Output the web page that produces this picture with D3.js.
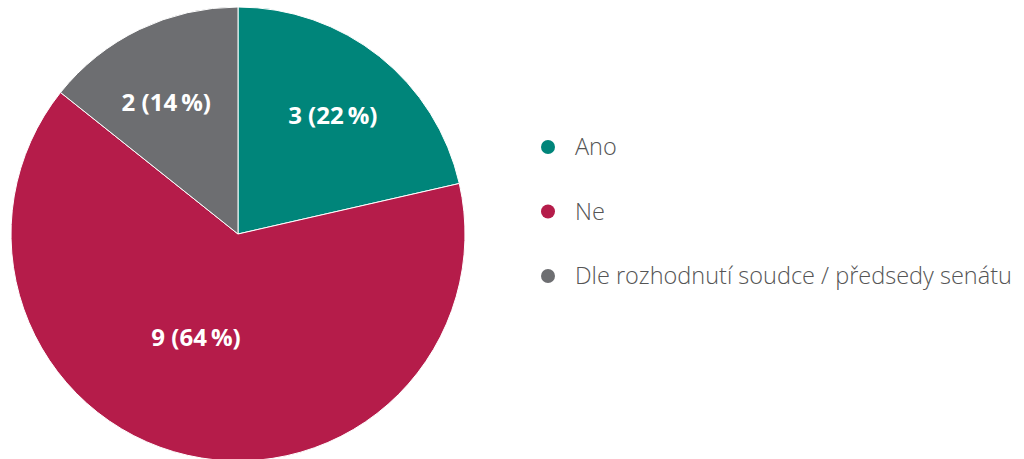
<!DOCTYPE html>
<html><head><meta charset="utf-8">
<script src="https://cdn.jsdelivr.net/npm/d3@7"></script>
<style>
html,body{margin:0;padding:0;background:#fff;}
svg{display:block;}
</style></head>
<body>
<svg id="chart" width="1024" height="459"></svg>
<script>
const categories = ["Ano", "Ne", "Dle rozhodnutí soudce / předsedy senátu"];
const values = [3, 9, 2];
const labels = ["3 (22\u2009%)", "9 (64\u2009%)", "2 (14\u2009%)"];
const colors = ["#00857a", "#b51c4a", "#6d6e71"];

const svg = d3.select("#chart");
const cx = 238, cy = 234, R = 227;
const g = svg.append("g").attr("transform", `translate(${cx},${cy})`);
const pie = d3.pie().sort(null).value(d => d)(values);
const arc = d3.arc().innerRadius(0).outerRadius(R);
g.selectAll("path").data(pie).enter().append("path")
  .attr("d", arc)
  .attr("fill", (d,i) => colors[i])
  .attr("stroke", "#fff").attr("stroke-width", 1);

const labelR = [152, 112, 150];
const angleShift = [0, 0.16, -0.05];
g.selectAll("text.lbl").data(pie).enter().append("text")
  .attr("class","lbl")
  .each(function(d,i){
    const a = (d.startAngle + d.endAngle)/2 + angleShift[i];
    d3.select(this).attr("x", Math.sin(a)*labelR[i]).attr("y", -Math.cos(a)*labelR[i]);
  })
  .attr("text-anchor","middle").attr("dy","0.36em")
  .attr("fill","#fff").attr("font-family","'Open Sans', 'Noto Sans', sans-serif")
  .attr("font-weight","bold").attr("font-size","24px")
  .text((d,i) => labels[i]);

const legend = svg.append("g").attr("transform","translate(548,147)");
const ly = d3.scalePoint().domain(categories).range([0, 129]);
const items = legend.selectAll("g").data(categories).enter().append("g")
  .attr("transform", d => `translate(0,${ly(d)})`);
items.append("circle").attr("r",7).attr("fill",(d,i)=>colors[i]);
items.append("text").attr("x",27).attr("dy","0.35em")
  .attr("font-family","'Open Sans', 'Noto Sans', sans-serif").attr("font-weight",300)
  .attr("font-size","23.5px").attr("fill","#555")
  .text(d => d);
</script>
</body></html>
